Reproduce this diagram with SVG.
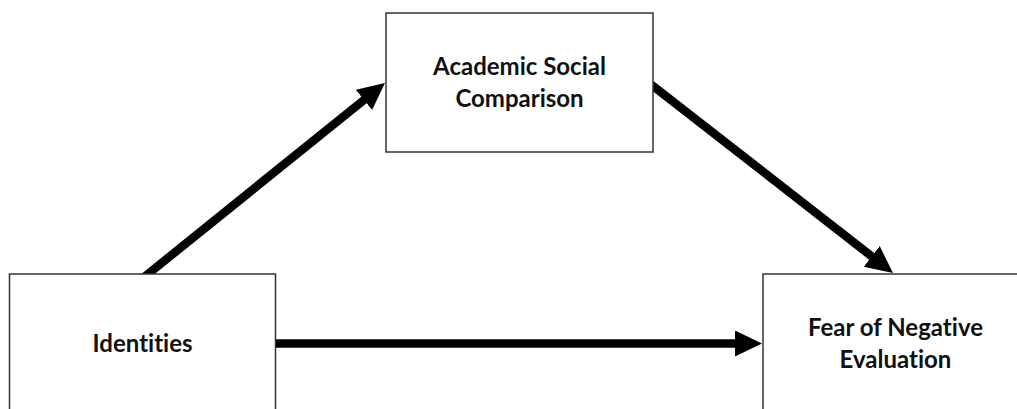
<svg xmlns="http://www.w3.org/2000/svg" width="1017" height="409" viewBox="0 0 1017 409">
  <style>
    .box { fill: #ffffff; stroke: #333333; stroke-width: 1.5; }
    .label { font-family: Lato, "Open Sans", "Liberation Sans", sans-serif; font-weight: bold; font-size: 24px; fill: #111111; text-anchor: middle; font-variant-ligatures: none; }
    .edge { stroke: #000000; stroke-width: 8.5; fill: none; marker-end: url(#head); }
  </style>
  <defs>
    <marker id="head" markerUnits="userSpaceOnUse" markerWidth="28" markerHeight="28" refX="2" refY="13" orient="auto">
      <path d="M0,0 L27,13 L0,26 z" fill="#000000"/>
    </marker>
  </defs>
  <rect width="1017" height="409" fill="#ffffff"/>

  <!-- connectors drawn first so the boxes clip their tails -->
  <g id="connectors">
    <line class="edge" x1="143.3" y1="277.8" x2="365.5" y2="98.7"/>
    <line class="edge" x1="648.3" y1="82.3" x2="873.3" y2="257.6"/>
    <line class="edge" x1="270" y1="343.5" x2="737" y2="343.5"/>
  </g>

  <g id="academic-social-comparison">
    <rect class="box" x="386" y="13" width="267" height="139"/>
    <text class="label" x="519.5" y="75">Academic Social</text>
    <text class="label" x="519.5" y="107">Comparison</text>
  </g>

  <g id="identities">
    <rect class="box" x="9.5" y="274" width="266" height="150"/>
    <text class="label" x="142.6" y="352">Identities</text>
  </g>

  <g id="fear-of-negative-evaluation">
    <rect class="box" x="763" y="274" width="265" height="150"/>
    <text class="label" x="895.5" y="336">Fear of Negative</text>
    <text class="label" x="895.5" y="368">Evaluation</text>
  </g>
</svg>
